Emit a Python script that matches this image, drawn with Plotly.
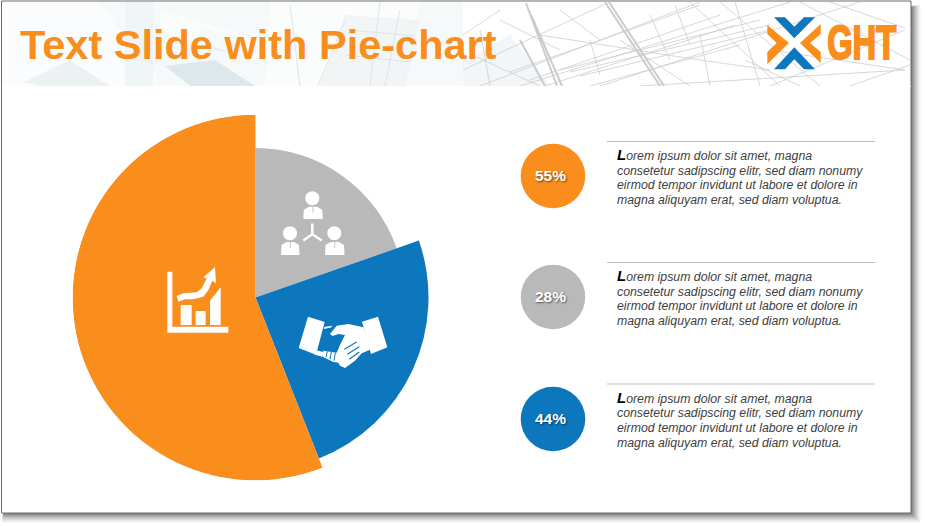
import numpy as np
import plotly.graph_objects as go

W, H = 925, 526
# ---- data
slice_names = ["Team", "Partnership", "Growth"]
slice_sweep_deg = [70.8, 87.7, 201.5]
slice_radius = [149.5, 173, 183]
slice_colors = ["#b9b9b9", "#0c77bd", "#f98e1d"]
badge_labels = ["55%", "28%", "44%"]
badge_colors = ["#f98e1d", "#b9b9b9", "#0c77bd"]
title_text = "Text Slide with Pie-chart"
logo_text = "GHT"
body_lines = ["Lorem ipsum dolor sit amet, magna",
              "consetetur sadipscing elitr, sed diam nonumy",
              "eirmod tempor invidunt ut labore et dolore in",
              "magna aliquyam erat, sed diam voluptua."]


def X(x): return x / W
def Y(y): return 1 - y / H


def poly(pts, fill, opacity=1, layer="above", line=None):
    d = "M " + " L ".join(f"{X(a):.5f},{Y(b):.5f}" for a, b in pts) + " Z"
    return dict(type="path", xref="paper", yref="paper", path=d, fillcolor=fill,
                opacity=opacity, layer=layer, line=line or dict(width=0))


def rect(x0, y0, x1, y1, fill, opacity=1, layer="below", line=None):
    return dict(type="rect", xref="paper", yref="paper", x0=X(x0), x1=X(x1), y0=Y(y0), y1=Y(y1),
                fillcolor=fill, opacity=opacity, layer=layer, line=line or dict(width=0))


def circ(cx, cy, r, fill, layer="above"):
    return dict(type="circle", xref="paper", yref="paper", x0=X(cx - r), x1=X(cx + r), y0=Y(cy + r), y1=Y(cy - r),
                fillcolor=fill, layer=layer, line=dict(width=0))


def seg(x0, y0, x1, y1, color, width=1, layer="below", opacity=1):
    return dict(type="line", xref="paper", yref="paper", x0=X(x0), x1=X(x1), y0=Y(y0), y1=Y(y1),
                layer=layer, opacity=opacity, line=dict(color=color, width=width))


shapes = []
# slide shadow
for i, op in zip(range(10, 0, -1), [.025, .03, .04, .05, .06, .07, .08, .09, .1, .11]):
    shapes.append(rect(4 - i * .2, 4 - i * .2 + 3, 911 + i, 513 + i, "#000000", op))
shapes.append(rect(1.5, 1, 911, 513, "#ffffff", line=dict(color="#6a6a6a", width=1)))

# header, left photograph
shapes.append(rect(2, 2, 463, 86, "#f6f9fa"))
for pts, c, o in [
    ([(2, 2), (100, 2), (160, 86), (2, 86)], "#fbfcfd", 1),
    ([(125, 2), (153, 2), (153, 86), (125, 86)], "#eef3f5", .8),
    ([(24, 82), (70, 60), (110, 86), (40, 86)], "#eaf0f2", .9),
    ([(165, 66), (215, 60), (255, 86), (190, 86)], "#dbe6ea", .9),
    ([(200, 28), (235, 36), (250, 58), (215, 50)], "#e6edef", .8),
    ([(270, 2), (420, 2), (400, 86), (265, 86)], "#fbfcfc", 1),
    ([(345, 15), (420, 20), (405, 86), (320, 86)], "#eef2f4", .7),
    ([(160, 10), (260, 40), (255, 60), (160, 30)], "#ffffff", .6),
]:
    shapes.append(poly(pts, c, o, layer="below"))
for a in [(350, 30, 415, 36), (345, 55, 410, 62), (380, 2, 370, 86), (400, 10, 385, 86), (318, 86, 345, 20), (290, 5, 300, 86)]:
    shapes.append(seg(*a, "#dde4e7", 1))
# header, right wireframe
shapes.append(rect(463, 2, 910, 86, "#ffffff"))
shapes.append(poly([(463, 60), (510, 35), (550, 86), (463, 86)], "#f0f4f6", .8, layer="below"))
for a in [(605, 2, 660, 86), (609, 2, 664, 86), (526, 3, 557, 86), (531, 15, 562, 86), (520, 40, 545, 86)]:
    shapes.append(seg(*a, "#cbcbcb", 2))
wire_thin = [(463, 70, 610, 2), (480, 86, 700, 2), (520, 86, 790, 2), (600, 86, 860, 2), (640, 86, 905, 70),
             (690, 2, 780, 86), (720, 2, 820, 86), (735, 2, 760, 86), (800, 2, 910, 60), (850, 86, 910, 65),
             (463, 35, 500, 10), (500, 20, 560, 50), (540, 35, 700, 60), (560, 70, 760, 20), (570, 72, 770, 25),
             (580, 76, 770, 30), (650, 15, 670, 60), (700, 35, 710, 86), (480, 30, 490, 86), (590, 40, 600, 75),
             (770, 50, 905, 70), (830, 2, 905, 28), (770, 86, 905, 30), (510, 72, 700, 5), (530, 80, 720, 15),
             (545, 86, 735, 25), (590, 86, 740, 45), (620, 40, 690, 86), (675, 5, 690, 45), (560, 10, 600, 40),
             (472, 55, 540, 86), (745, 60, 800, 86), (700, 60, 770, 70)]
for a in wire_thin:
    shapes.append(seg(*a, "#cdcdcd", 0.8))
shapes.append(rect(2, 86, 911, 87, "#ffffff"))

# logo
B, O, GR, WH = "#0c77bd", "#f98e1d", "#b9b9b9", "#ffffff"
shapes += [
    poly([(774, 17.3), (785, 17.3), (794.3, 26.7), (804, 17.3), (815, 17.3), (794.3, 38.3)], B),
    poly([(794.3, 47.3), (815, 69.3), (804, 69.3), (794.3, 59.3), (785, 69.3), (774, 69.3)], B),
    poly([(767.3, 25), (789, 43), (767.3, 64), (767.3, 52), (776.7, 43), (767.3, 34)], O),
    poly([(820.7, 24), (820.7, 34), (810, 43), (820.7, 52), (820.7, 63), (800, 43)], O),
]


def ico(pts, ox, oy):
    return [(ox + a / 3, oy + b / 3) for a, b in pts]


# growth icon
for p in [
    [(22, 35), (37, 35), (37, 200), (205, 200), (205, 218), (22, 218)],
    [(62, 135), (95, 135), (95, 195), (62, 195)],
    [(107, 153), (137, 153), (137, 195), (107, 195)],
    [(150, 122), (182, 82), (182, 195), (150, 195)],
    [(50, 108), (70, 100), (110, 97), (125, 85), (140, 55), (130, 52), (165, 22), (168, 70), (157, 62), (145, 90),
     (130, 110), (100, 118), (75, 118), (55, 125)],
]:
    shapes.append(poly(ico(p, 160, 260), WH))

# people icon
for hx, hy, x0, x1, y0, y1 in [(312.3, 198.3, 303.3, 322.7, 206.7, 219),
                               (290, 233.3, 281, 299.5, 242, 255),
                               (334.3, 233.3, 325, 344.5, 242, 255)]:
    shapes.append(circ(hx, hy, 7, WH))
    m = (x0 + x1) / 2
    shapes.append(poly([(x0, y1), (x0 + .5, y0 + 3), (m - 4, y0), (m + 4, y0), (x1 - .5, y0 + 3), (x1, y1)], WH))
    shapes.append(seg(m, y0, m, y0 + 6, GR, 0.8, "above"))
shapes += [seg(312.3, 223.5, 312.3, 234.3, WH, 2.5, "above"),
           seg(312.3, 234.3, 303.3, 240.5, WH, 2.5, "above"),
           seg(312.3, 234.3, 321.7, 240.5, WH, 2.5, "above")]

# handshake icon
for p, c in [
    ([(54, 20), (104, 36), (78, 134), (26, 114)], WH),
    ([(216, 35), (264, 20), (292, 112), (243, 132)], WH),
    ([(120, 72), (140, 47), (175, 42), (220, 52), (244, 118), (215, 130), (195, 152), (165, 174), (150, 167),
      (135, 140), (150, 105), (165, 75), (145, 72), (128, 78)], WH),
    ([(76, 120), (100, 126), (98, 140), (74, 134)], WH),
    ([(100, 122), (150, 130), (160, 160), (130, 156), (98, 140)], WH),
    ([(103, 51), (125, 47), (125, 52), (102, 57)], WH),
]:
    shapes.append(poly(ico(p, 290, 310), c))
for a in [((163, 118), (200, 96)), ((172, 133), (208, 110)), ((178, 148), (208, 126))]:
    (x0, y0), (x1, y1) = ico(a, 290, 310)
    shapes.append(seg(x0, y0, x1, y1, B, 1.2, "above"))
for a in [(112, 124, 108, 142), (124, 126, 120, 148), (136, 128, 132, 152)]:
    (x0, y0), (x1, y1) = ico([(a[0], a[1]), (a[2], a[3])], 290, 310)
    shapes.append(seg(x0, y0, x1, y1, B, 1, "above"))

# right-hand rows
rows_y = [141.5, 262.5, 384]
badge_y = [176, 297, 419]
annotations = [
    dict(text=f"<b>{title_text}</b>", x=X(18), y=Y(44), xref="paper", yref="paper", xanchor="left", yanchor="middle",
         showarrow=False, font=dict(family="Liberation Sans", size=41.5, color=O)),
    dict(text=logo_text, x=X(861), y=Y(43), xref="paper", yref="paper", xanchor="center", yanchor="middle",
         showarrow=False, font=dict(family="Liberation Sans", size=48, weight=700, color=O)),
]
for ry, by, lab, col in zip(rows_y, badge_y, badge_labels, badge_colors):
    shapes.append(seg(607, ry, 875, ry, "#bfbfbf", 1, "above"))
    shapes.append(circ(553, by, 32.3, col, "below"))
    annotations.append(dict(text=f"<b>{lab}</b>", x=X(550.5), y=Y(by - 1), xref="paper", yref="paper", showarrow=False,
                            xanchor="center", yanchor="middle",
                            font=dict(family="Liberation Sans", size=15.5, color="#ffffff",
                                      shadow="1px 1px 2px rgba(0,0,0,0.55)")))
    for k, t in enumerate(body_lines):
        dy = 0
        if k == 0:
            t = '<span style="font-size:15px;color:#000000"><b>L</b></span>' + t[1:]
            dy = -1.5
        annotations.append(dict(text=f"<i>{t}</i>", x=X(615), y=Y(ry + 14.5 + dy + k * 14.7), xref="paper", yref="paper",
                                xanchor="left", yanchor="middle", showarrow=False,
                                font=dict(family="Liberation Sans", size=12.3, color="#404040")))

# pie wedges with unequal radii
sweep = np.array(slice_sweep_deg)
ends = np.cumsum(sweep)
fig = go.Figure(go.Barpolar(r=slice_radius, theta=ends - sweep / 2, width=sweep,
                            marker=dict(color=slice_colors, line=dict(width=0)),
                            text=slice_names, hoverinfo="text"))
fig.update_layout(
    width=W, height=H, margin=dict(l=0, r=0, t=0, b=0), showlegend=False,
    paper_bgcolor="#ffffff", shapes=shapes, annotations=annotations,
    polar=dict(
        domain=dict(x=[X(72.5), X(438.5)], y=[Y(480.5), Y(114.5)]),
        bgcolor="rgba(0,0,0,0)",
        radialaxis=dict(range=[0, 183], visible=False),
        angularaxis=dict(direction="clockwise", rotation=90, visible=False),
        bargap=0,
    ),
)
squeeze = """
document.body.style.margin='0';document.body.style.overflow='hidden';
document.querySelectorAll('.annotation-text').forEach(function(t){
  if(t.textContent==='GHT'){
    t.setAttribute('textLength','69');t.setAttribute('lengthAdjust','spacingAndGlyphs');
    t.style.stroke='#f98e1d';t.style.strokeWidth='2.2px';
  }
});
"""
fig.write_html("out.html", config=dict(displayModeBar=False), post_script=squeeze)
